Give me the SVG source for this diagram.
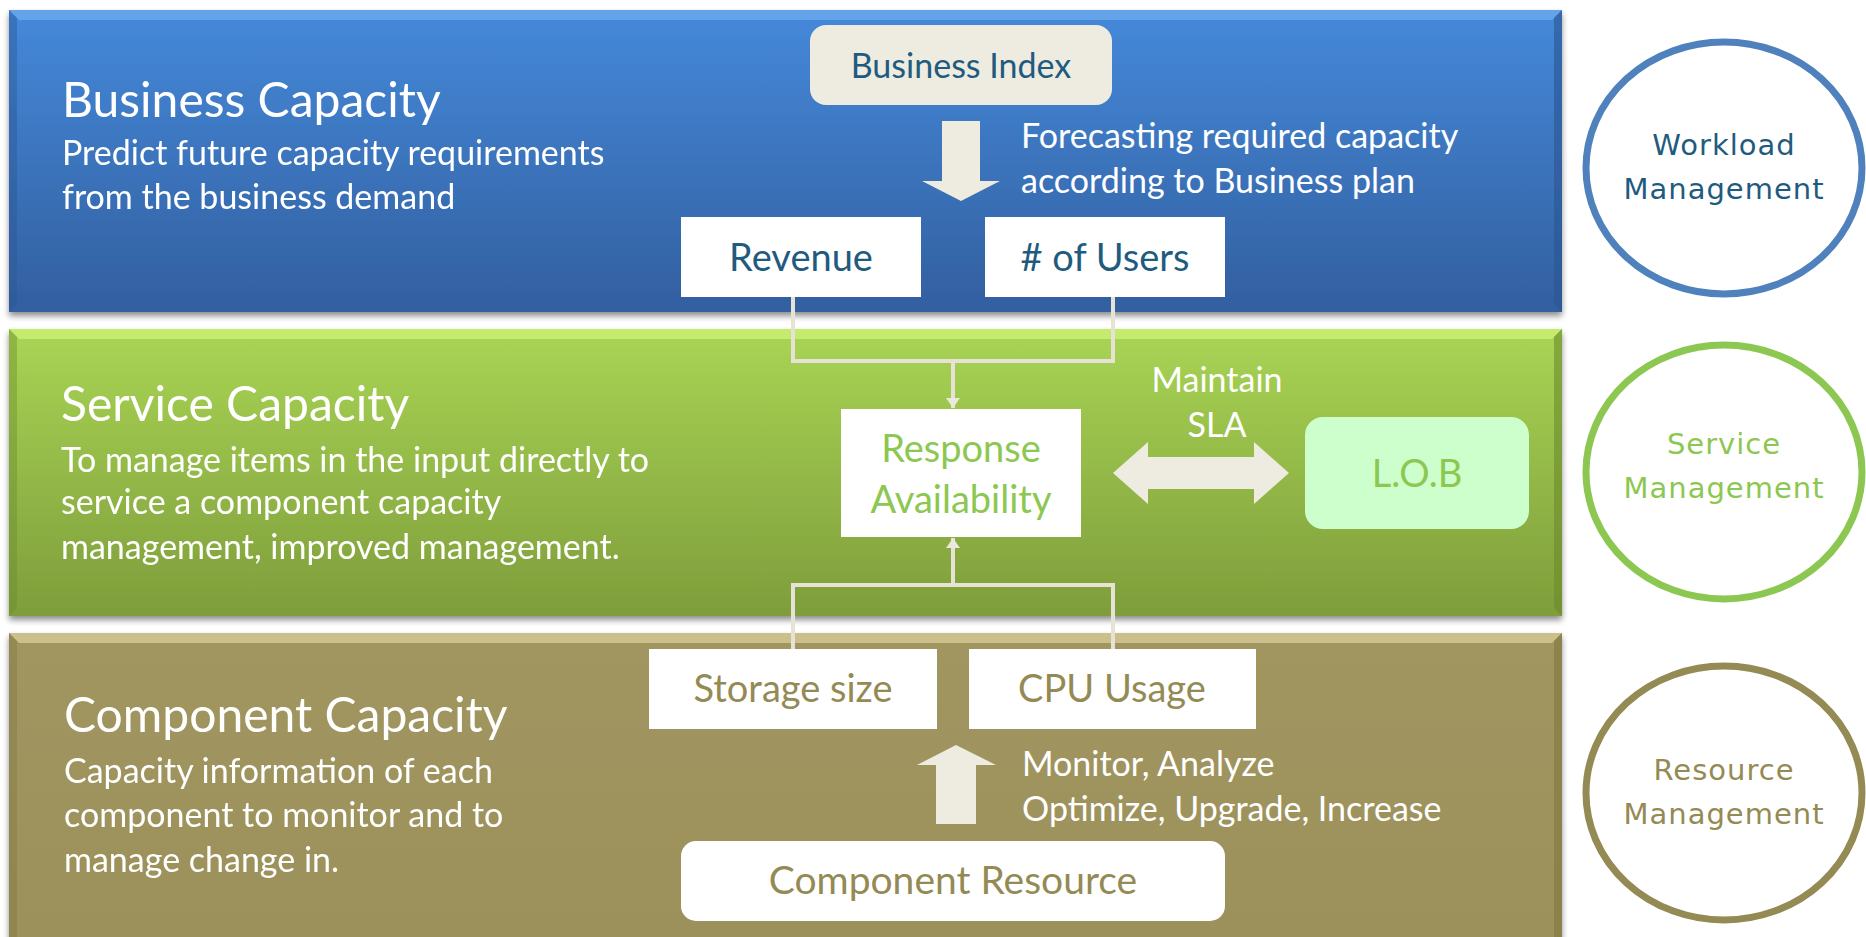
<svg xmlns="http://www.w3.org/2000/svg" width="1866" height="937" viewBox="0 0 1866 937">
<defs>
<linearGradient id="gBlue" x1="0" y1="0" x2="0" y2="1"><stop offset="0" stop-color="#4589da"/><stop offset="1" stop-color="#325f9f"/></linearGradient>
<linearGradient id="gGreen" x1="0" y1="0" x2="0" y2="1"><stop offset="0" stop-color="#a9d555"/><stop offset="1" stop-color="#7e9d3b"/></linearGradient>
<linearGradient id="gOlive" x1="0" y1="0" x2="0" y2="1"><stop offset="0" stop-color="#a19660"/><stop offset="1" stop-color="#9c915a"/></linearGradient>
<filter id="sh" x="-5%" y="-10%" width="110%" height="125%"><feGaussianBlur in="SourceAlpha" stdDeviation="3"/><feOffset dx="0" dy="4"/><feComponentTransfer><feFuncA type="linear" slope="0.45"/></feComponentTransfer><feMerge><feMergeNode/><feMergeNode in="SourceGraphic"/></feMerge></filter>
<marker id="ah" viewBox="0 0 10 20" refX="10" refY="10" markerWidth="10" markerHeight="20" markerUnits="userSpaceOnUse" orient="auto"><path d="M0,3 L10,10 L0,17 z" fill="#ebe8dc"/></marker>
<style>
.t{font-family:Lato,"Liberation Sans",sans-serif;}
.title{font-size:48px;fill:#ffffff;}
.sub{font-size:34px;fill:#ffffff;}
.lab{font-size:34px;fill:#ffffff;}
.box{font-size:38px;text-anchor:middle;}
.c{font-family:"DejaVu Sans",sans-serif;font-size:29px;letter-spacing:1px;text-anchor:middle;}
.conn{fill:none;stroke:#e6e3d6;stroke-width:4;}
.big{fill:#eeebe0;}
</style>
</defs>

<g id="band-business" filter="url(#sh)">
<rect x="9" y="10" width="1553" height="302" fill="url(#gBlue)"/>
<polygon points="9,10 1562,10 1552,20 19,20" fill="#6aa8ec" opacity="0.85"/>
<polygon points="1562,10 1562,312 1554,304 1554,18" fill="#2a5590" opacity="0.6"/>
<polygon points="9,10 17,18 17,304 9,312" fill="#2a5590" opacity="0.4"/>
<text class="t title" x="62" y="117">Business Capacity</text>
<text class="t sub" x="62" y="165">Predict future capacity requirements</text>
<text class="t sub" x="62" y="209">from the business demand</text>
</g>

<g id="band-service" filter="url(#sh)">
<rect x="9" y="329" width="1553" height="287" fill="url(#gGreen)"/>
<polygon points="9,329 1562,329 1552,339 19,339" fill="#c9ef72" opacity="0.85"/>
<polygon points="1562,329 1562,616 1554,608 1554,337" fill="#6a8a2c" opacity="0.6"/>
<polygon points="9,329 17,337 17,608 9,616" fill="#6a8a2c" opacity="0.4"/>
<text class="t title" x="61" y="421">Service Capacity</text>
<text class="t sub" x="61" y="472">To manage items in the input directly to</text>
<text class="t sub" x="61" y="514">service a component capacity</text>
<text class="t sub" x="61" y="559">management, improved management.</text>
</g>

<g id="band-component" filter="url(#sh)">
<rect x="9" y="633" width="1553" height="310" fill="url(#gOlive)"/>
<polygon points="9,633 1562,633 1552,643 19,643" fill="#d2c894" opacity="0.85"/>
<polygon points="1562,633 1562,943 1554,943 1554,641" fill="#7f7642" opacity="0.6"/>
<polygon points="9,633 17,641 17,943 9,943" fill="#7f7642" opacity="0.4"/>
<text class="t title" x="64" y="732">Component Capacity</text>
<text class="t sub" x="64" y="783">Capacity information of each</text>
<text class="t sub" x="64" y="827">component to monitor and to</text>
<text class="t sub" x="64" y="872">manage change in.</text>
</g>

<g id="connectors">
<polyline class="conn" points="793,297 793,361 1113,361 1113,297"/>
<line class="conn" x1="953" y1="361" x2="953" y2="408" marker-end="url(#ah)"/>
<polyline class="conn" points="793,649 793,585 1113,585 1113,649"/>
<line class="conn" x1="953" y1="585" x2="953" y2="538" marker-end="url(#ah)"/>
<polygon class="big" points="942,121 980,121 980,181 1000,181 961,201 922,181 942,181"/>
<polygon class="big" points="1113,473 1148,442 1148,457 1254,457 1254,442 1289,473 1254,504 1254,489 1148,489 1148,504"/>
<polygon class="big" points="936,824 976,824 976,765 996,765 956,745 917,765 936,765"/>
</g>

<g id="business-index">
<rect x="810" y="25" width="302" height="80" rx="16" fill="#eeebe0"/>
<text class="t box" x="961" y="78" style="font-size:34px" fill="#1f5b7f">Business Index</text>
</g>
<g id="label-forecast">
<text class="t lab" x="1021" y="148">Forecasting required capacity</text>
<text class="t lab" x="1021" y="193">according to Business plan</text>
</g>
<g id="revenue">
<rect x="681" y="217" width="240" height="80" fill="#ffffff"/>
<text class="t box" x="801" y="271" fill="#1f5b7f">Revenue</text>
</g>
<g id="users">
<rect x="985" y="217" width="240" height="80" fill="#ffffff"/>
<text class="t box" x="1105" y="271" fill="#1f5b7f"># of Users</text>
</g>

<g id="response">
<rect x="841" y="409" width="240" height="128" fill="#ffffff"/>
<text class="t box" x="961" y="462" fill="#8cc751">Response</text>
<text class="t box" x="961" y="513" fill="#8cc751">Availability</text>
</g>
<g id="label-sla">
<text class="t lab" x="1217" y="392" text-anchor="middle">Maintain</text>
<text class="t lab" x="1217" y="437" text-anchor="middle">SLA</text>
</g>
<g id="lob">
<rect x="1305" y="417" width="224" height="112" rx="18" fill="#ccffcc"/>
<text class="t box" x="1417" y="487" fill="#8cc751">L.O.B</text>
</g>

<g id="storage">
<rect x="649" y="649" width="288" height="80" fill="#ffffff"/>
<text class="t box" x="793" y="702" fill="#948a54">Storage size</text>
</g>
<g id="cpu">
<rect x="969" y="649" width="287" height="80" fill="#ffffff"/>
<text class="t box" x="1112" y="702" fill="#948a54">CPU Usage</text>
</g>
<g id="label-monitor">
<text class="t lab" x="1022" y="776">Monitor, Analyze</text>
<text class="t lab" x="1022" y="821">Optimize, Upgrade, Increase</text>
</g>
<g id="component-resource">
<rect x="681" y="841" width="544" height="80" rx="15" fill="#ffffff"/>
<text class="t box" x="953" y="894" style="font-size:39px" fill="#948a54">Component Resource</text>
</g>

<g id="workload-mgmt">
<ellipse cx="1724" cy="168" rx="138" ry="126" fill="#ffffff" stroke="#4f81bd" stroke-width="7"/>
<text class="c" x="1724" y="155" fill="#1f5b7f">Workload</text>
<text class="c" x="1724" y="199" fill="#1f5b7f">Management</text>
</g>
<g id="service-mgmt">
<ellipse cx="1724" cy="472" rx="138" ry="127" fill="#ffffff" stroke="#8cc751" stroke-width="7"/>
<text class="c" x="1724" y="454" fill="#8cc751">Service</text>
<text class="c" x="1724" y="498" fill="#8cc751">Management</text>
</g>
<g id="resource-mgmt">
<ellipse cx="1724" cy="793" rx="138" ry="127" fill="#ffffff" stroke="#948a54" stroke-width="7"/>
<text class="c" x="1724" y="780" fill="#948a54">Resource</text>
<text class="c" x="1724" y="824" fill="#948a54">Management</text>
</g>
</svg>
